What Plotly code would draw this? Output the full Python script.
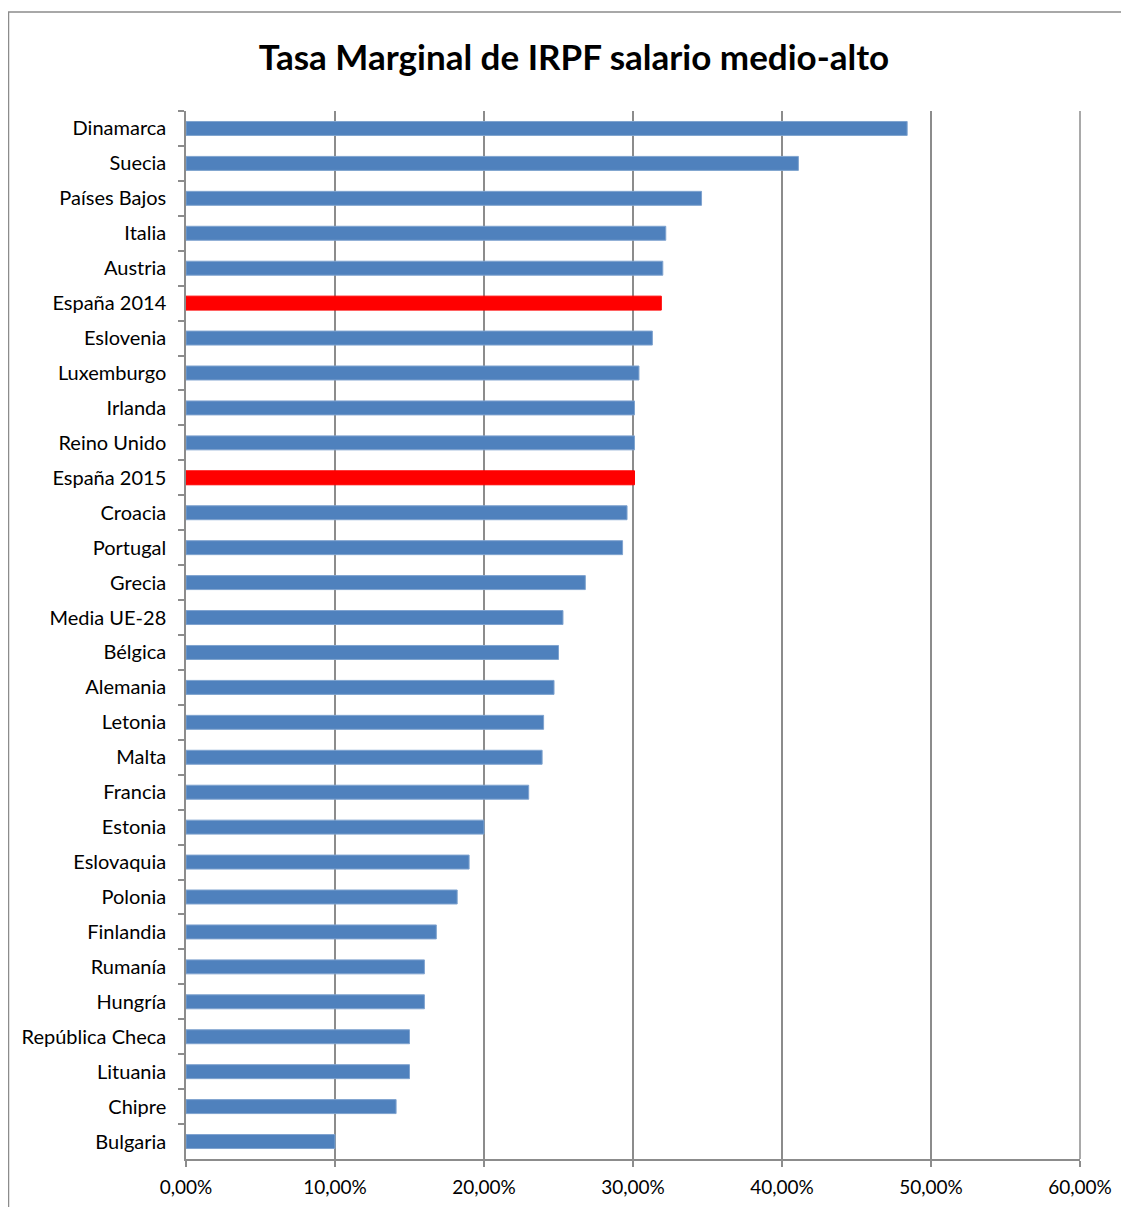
import plotly.graph_objects as go

countries = ["Dinamarca", "Suecia", "Países Bajos", "Italia", "Austria", "España 2014",
             "Eslovenia", "Luxemburgo", "Irlanda", "Reino Unido", "España 2015", "Croacia",
             "Portugal", "Grecia", "Media UE-28", "Bélgica", "Alemania", "Letonia", "Malta",
             "Francia", "Estonia", "Eslovaquia", "Polonia", "Finlandia", "Rumanía", "Hungría",
             "República Checa", "Lituania", "Chipre", "Bulgaria"]
rates = [0.484, 0.411, 0.346, 0.322, 0.320, 0.319,
         0.313, 0.304, 0.301, 0.301, 0.301, 0.296,
         0.293, 0.268, 0.253, 0.250, 0.247, 0.240, 0.239,
         0.230, 0.200, 0.190, 0.182, 0.168, 0.160, 0.160,
         0.150, 0.150, 0.141, 0.100]
highlight = ["España 2014", "España 2015"]

colors = ["#FF0000" if c in highlight else "#4F81BD" for c in countries]
line_colors = ["#FF0000" if c in highlight else "#7FA3CF" for c in countries]

FONT = "Lato, Open Sans, sans-serif"
GRID = "#8C8C8C"

W, H = 1129, 1207
L, R, T, B = 178, 57, 103, 56
PW, PH = W - L - R, H - T - B

fig = go.Figure(go.Bar(
    x=rates, y=countries, orientation="h",
    marker=dict(color=colors, line=dict(color=line_colors, width=1)),
    width=0.4,
))

fig.update_layout(
    width=W, height=H,
    margin=dict(l=L, r=R, t=T, b=B, pad=0),
    paper_bgcolor="white", plot_bgcolor="white",
    separators=",.",
    showlegend=False,
    title=dict(text="<b>Tasa Marginal de IRPF salario medio-alto</b>",
               x=566 / W, xanchor="center", xref="container",
               y=1 - 50 / H, yanchor="middle", yref="container",
               font=dict(family=FONT, size=35, color="black")),
    font=dict(family=FONT, size=20, color="black"),
    xaxis=dict(range=[0, 0.6], tickvals=[0, 0.1, 0.2, 0.3, 0.4, 0.5, 0.6],
               tickformat=".2%",
               showgrid=True, gridcolor=GRID, gridwidth=1.5,
               showline=True, linecolor=GRID, linewidth=1.5,
               ticks="outside", ticklen=6, tickcolor=GRID, tickwidth=1.5,
               zeroline=False, tickfont=dict(size=19), ticklabelstandoff=4,
               fixedrange=True),
    yaxis=dict(autorange="reversed", tickson="boundaries",
               showline=True, linecolor=GRID, linewidth=1.5,
               ticks="outside", ticklen=6, tickcolor=GRID, tickwidth=1.5,
               showgrid=False, tickfont=dict(size=20), ticklabelstandoff=14,
               fixedrange=True),
    shapes=[
        dict(type="rect", xref="paper", yref="paper",
             x0=-(L - 0.5) / PW, x1=1.3, y0=-0.2, y1=1 + (T - 4) / PH,
             line=dict(color=GRID, width=1.5), fillcolor="rgba(0,0,0,0)",
             layer="below"),
        # gridline at the right end of the value axis (60%)
        dict(type="line", xref="paper", yref="paper", x0=1, x1=1, y0=0, y1=1,
             line=dict(color=GRID, width=1.5), layer="below"),
    ],
)

fig.write_html("out.html")
